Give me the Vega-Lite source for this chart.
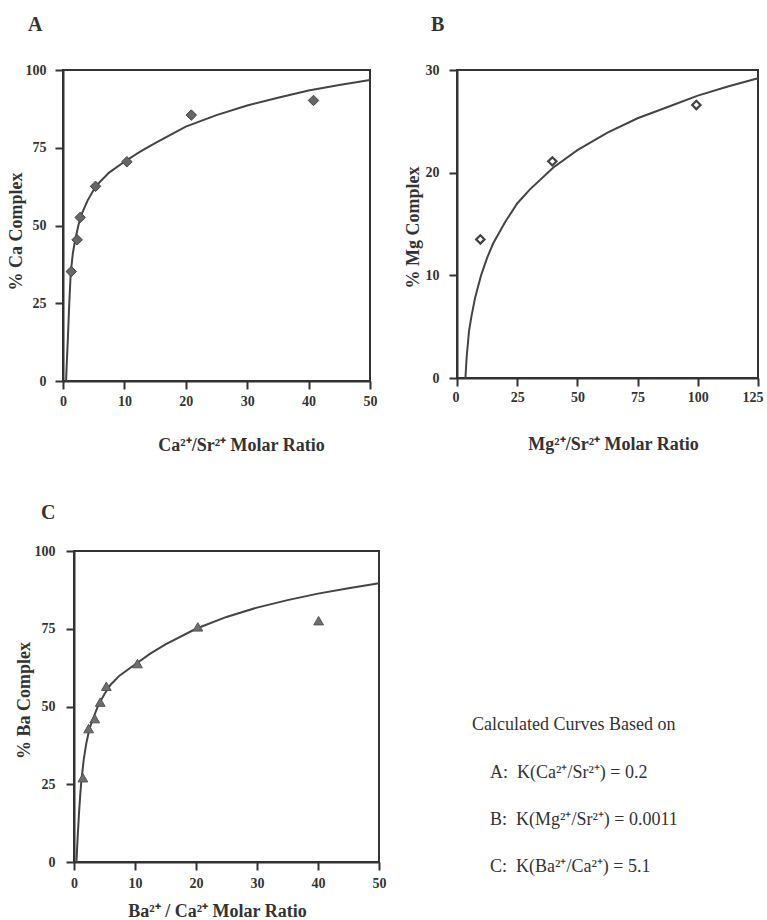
{
  "$schema": "https://vega.github.io/schema/vega-lite/v6.json",
  "background": "white",
  "padding": {"left": 2, "top": 14, "right": 5, "bottom": 0},
  "config": {
    "font": "Liberation Serif",
    "view": {"stroke": "#333", "strokeWidth": 2},
    "axis": {"labelFont": "Liberation Serif", "labelFontWeight": "bold", "labelFontSize": 14, "labelColor": "#333", "labelFlush": false, "labelOverlap": false,
      "titleFont": "Liberation Serif", "titleFontWeight": "bold", "titleFontSize": 18, "titleColor": "#333",
      "domainColor": "#333", "domainWidth": 2, "tickColor": "#333", "tickWidth": 2, "tickSize": 8, "grid": false},
    "title": {"font": "Liberation Serif", "fontSize": 20, "fontWeight": "bold", "color": "#333", "anchor": "start", "baseline": "bottom", "frame": "bounds"}
  },
  "datasets": {
    "curveA": [
      {"x": 0.5, "y": 0}, {"x": 0.6, "y": 5}, {"x": 0.8, "y": 14}, {"x": 1.0, "y": 24}, {"x": 1.25, "y": 34.5}, {"x": 1.6, "y": 41}, {"x": 2, "y": 45.5}, {"x": 2.5, "y": 50}, {"x": 3, "y": 53.5}, {"x": 4, "y": 58}, {"x": 5, "y": 61.5}, {"x": 6, "y": 64}, {"x": 7.5, "y": 67}, {"x": 10, "y": 70.5}, {"x": 12.5, "y": 73.7}, {"x": 15, "y": 76.5}, {"x": 20, "y": 81.8}, {"x": 25, "y": 85.5}, {"x": 30, "y": 88.6}, {"x": 35, "y": 91.1}, {"x": 40, "y": 93.4}, {"x": 45, "y": 95.2}, {"x": 50, "y": 96.8}
    ],
    "ptsA": [
      {"x": 1.35, "y": 35.2}, {"x": 2.3, "y": 45.4}, {"x": 2.8, "y": 52.6}, {"x": 5.3, "y": 62.6}, {"x": 10.4, "y": 70.5}, {"x": 20.9, "y": 85.5}, {"x": 40.8, "y": 90.2}
    ],
    "curveB": [
      {"x": 3.5, "y": 0}, {"x": 4, "y": 2}, {"x": 5, "y": 4.6}, {"x": 6, "y": 6}, {"x": 7.5, "y": 7.8}, {"x": 10, "y": 10}, {"x": 12.5, "y": 11.7}, {"x": 15, "y": 13.1}, {"x": 20, "y": 15.2}, {"x": 25, "y": 17}, {"x": 30, "y": 18.3}, {"x": 40, "y": 20.5}, {"x": 50, "y": 22.2}, {"x": 62.5, "y": 23.9}, {"x": 75, "y": 25.3}, {"x": 87.5, "y": 26.4}, {"x": 100, "y": 27.5}, {"x": 112.5, "y": 28.4}, {"x": 125, "y": 29.2}
    ],
    "ptsB": [
      {"x": 9.7, "y": 13.5}, {"x": 39.6, "y": 21.1}, {"x": 99.4, "y": 26.6}
    ],
    "curveC": [
      {"x": 0.4, "y": 0}, {"x": 0.6, "y": 8}, {"x": 0.8, "y": 15}, {"x": 1.0, "y": 21}, {"x": 1.2, "y": 26}, {"x": 1.6, "y": 33}, {"x": 2, "y": 38}, {"x": 2.5, "y": 42.5}, {"x": 3, "y": 45.5}, {"x": 4, "y": 50.5}, {"x": 5, "y": 54}, {"x": 6, "y": 57}, {"x": 7.5, "y": 60}, {"x": 10, "y": 63.5}, {"x": 12.5, "y": 67}, {"x": 15, "y": 70}, {"x": 20, "y": 75}, {"x": 25, "y": 78.8}, {"x": 30, "y": 81.8}, {"x": 35, "y": 84.2}, {"x": 40, "y": 86.3}, {"x": 45, "y": 88}, {"x": 50, "y": 89.6}
    ],
    "ptsC": [
      {"x": 1.46, "y": 27.1}, {"x": 2.4, "y": 42.9}, {"x": 3.4, "y": 46.1}, {"x": 4.3, "y": 51.4}, {"x": 5.3, "y": 56.5}, {"x": 10.4, "y": 63.8}, {"x": 20.3, "y": 75.6}, {"x": 40.1, "y": 77.6}
    ],
    "legendText": [
      {"line": 0, "label": "Calculated Curves Based on", "kind": "head"},
      {"line": 1, "label": "A:\u00a0 K(Ca²⁺/Sr²⁺) = 0.2", "kind": "k"},
      {"line": 2, "label": "B:\u00a0 K(Mg²⁺/Sr²⁺) = 0.0011", "kind": "k"},
      {"line": 3, "label": "C:\u00a0 K(Ba²⁺/Ca²⁺) = 5.1", "kind": "k"}
    ]
  },
  "vconcat": [
    {
      "hconcat": [
        {"width": 4, "height": 1, "view": {"stroke": null}, "data": {"values": []}, "mark": "point", "encoding": {}},
        {
          "hconcat": [
            {
              "width": 307, "height": 311,
              "title": {"text": "A", "dx": 21, "offset": 28},
              "layer": [
                {
                  "data": {"name": "curveA"},
                  "mark": {"type": "line", "color": "#444", "strokeWidth": 2},
                  "encoding": {
                    "x": {"field": "x", "type": "quantitative", "scale": {"domain": [0, 50], "nice": false},
                      "axis": {"values": [0, 10, 20, 30, 40, 50], "title": "Ca²⁺/Sr²⁺ Molar Ratio", "labelPadding": 5, "titlePadding": 28, "titleX": 178}},
                    "y": {"field": "y", "type": "quantitative", "scale": {"domain": [0, 100], "nice": false},
                      "axis": {"values": [0, 25, 50, 75, 100], "title": "% Ca Complex", "labelPadding": 9, "titlePadding": 0, "titleY": 161}}
                  }
                },
                {
                  "data": {"name": "ptsA"},
                  "mark": {"type": "point", "shape": "diamond", "filled": true, "size": 110, "fill": "#666", "stroke": "#444", "strokeWidth": 1, "opacity": 1},
                  "encoding": {
                    "x": {"field": "x", "type": "quantitative"},
                    "y": {"field": "y", "type": "quantitative"}
                  }
                }
              ]
            },
            {
              "width": 301, "height": 308,
              "title": {"text": "B", "dx": 27, "offset": 28},
              "layer": [
                {
                  "data": {"name": "curveB"},
                  "mark": {"type": "line", "color": "#444", "strokeWidth": 2},
                  "encoding": {
                    "x": {"field": "x", "type": "quantitative", "scale": {"domain": [0, 125], "nice": false},
                      "axis": {"values": [0, 25, 50, 75, 100, 125], "title": "Mg²⁺/Sr²⁺ Molar Ratio", "labelPadding": 4, "titlePadding": 31, "titleX": 156, "labelFlush": true, "labelFlushOffset": 5}},
                    "y": {"field": "y", "type": "quantitative", "scale": {"domain": [0, 30], "nice": false},
                      "axis": {"values": [0, 10, 20, 30], "title": "% Mg Complex", "labelPadding": 10, "titlePadding": 3, "titleY": 157}}
                  }
                },
                {
                  "data": {"name": "ptsB"},
                  "mark": {"type": "point", "shape": "diamond", "filled": false, "size": 70, "stroke": "#444", "strokeWidth": 2.2, "opacity": 1},
                  "encoding": {
                    "x": {"field": "x", "type": "quantitative"},
                    "y": {"field": "y", "type": "quantitative"}
                  }
                }
              ]
            }
          ],
          "spacing": 25
        }
      ],
      "spacing": 0
    },
    {
      "hconcat": [
        {"width": 12, "height": 1, "view": {"stroke": null}, "data": {"values": []}, "mark": "point", "encoding": {}},
        {
          "hconcat": [
            {
              "width": 305, "height": 311,
              "title": {"text": "C", "dx": 26, "offset": 21},
              "layer": [
                {
                  "data": {"name": "curveC"},
                  "mark": {"type": "line", "color": "#444", "strokeWidth": 2},
                  "encoding": {
                    "x": {"field": "x", "type": "quantitative", "scale": {"domain": [0, 50], "nice": false},
                      "axis": {"values": [0, 10, 20, 30, 40, 50], "title": "Ba²⁺ / Ca²⁺ Molar Ratio", "labelPadding": 6, "titlePadding": 12, "titleX": 143}},
                    "y": {"field": "y", "type": "quantitative", "scale": {"domain": [0, 100], "nice": false},
                      "axis": {"values": [0, 25, 50, 75, 100], "title": "% Ba Complex", "labelPadding": 11, "titlePadding": 1, "titleY": 149}}
                  }
                },
                {
                  "data": {"name": "ptsC"},
                  "mark": {"type": "point", "shape": "triangle-up", "filled": true, "size": 95, "fill": "#6e6e6e", "stroke": "#555", "strokeWidth": 1, "opacity": 1},
                  "encoding": {
                    "x": {"field": "x", "type": "quantitative"},
                    "y": {"field": "y", "type": "quantitative"}
                  }
                }
              ]
            },
            {
              "width": 280, "height": 340,
              "view": {"stroke": null},
              "data": {"name": "legendText"},
              "layer": [
                {
                  "transform": [{"filter": "datum.kind === 'head'"}],
                  "mark": {"type": "text", "align": "left", "baseline": "middle", "font": "Liberation Serif", "fontSize": 18, "color": "#333", "dx": 81},
                  "encoding": {
                    "x": {"datum": 0, "type": "quantitative", "scale": {"domain": [0, 1]}, "axis": null},
                    "y": {"field": "line", "type": "quantitative", "scale": {"domain": [-3.68, 3.5], "reverse": true, "nice": false, "zero": false}, "axis": null},
                    "text": {"field": "label"}
                  }
                },
                {
                  "transform": [{"filter": "datum.kind === 'k'"}],
                  "mark": {"type": "text", "align": "left", "baseline": "middle", "font": "Liberation Serif", "fontSize": 18, "color": "#333", "dx": 99},
                  "encoding": {
                    "x": {"datum": 0, "type": "quantitative"},
                    "y": {"field": "line", "type": "quantitative"},
                    "text": {"field": "label"}
                  }
                }
              ]
            }
          ],
          "spacing": 4
        }
      ],
      "spacing": 0
    }
  ],
  "spacing": 47
}
